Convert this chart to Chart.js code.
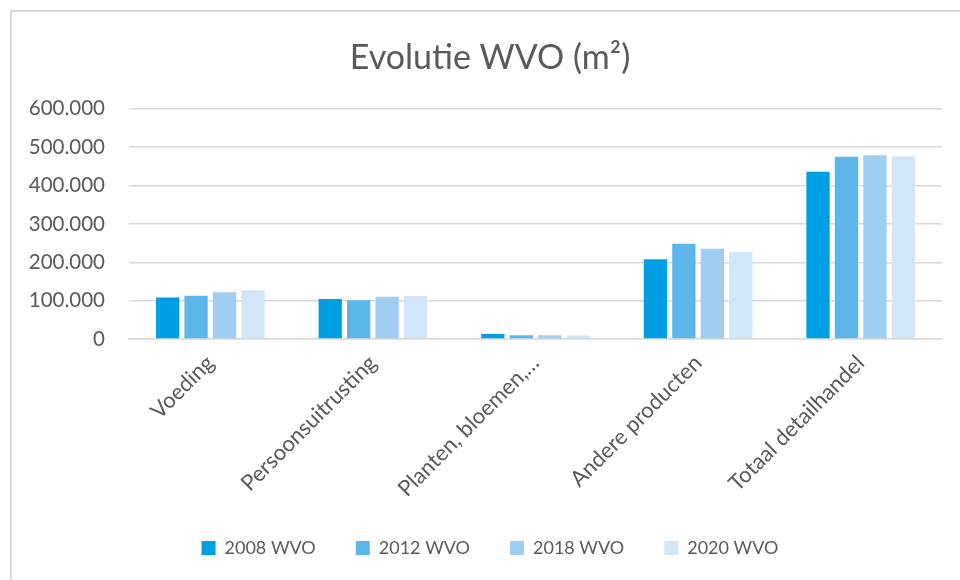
<!DOCTYPE html>
<html>
<head>
<meta charset="utf-8">
<script src="https://cdn.jsdelivr.net/npm/chart.js@4.4.0/dist/chart.umd.min.js"></script>
<style>
  html, body { margin: 0; padding: 0; background: #fff; overflow: hidden; }
  #kader { position: absolute; left: 10px; top: 10px; width: 960px; height: 580px;
           border-left: 2px solid #d9d9d9; border-top: 2px solid #d9d9d9; box-sizing: border-box; }
  #grafiek { position: absolute; left: 10px; top: 10px; }
</style>
</head>
<body>
<div id="kader"></div>
<canvas id="grafiek" width="960" height="570"></canvas>
<script>
const categorieen = ['Voeding', 'Persoonsuitrusting', 'Planten, bloemen,…', 'Andere producten', 'Totaal detailhandel'];
const wvo2008 = [108000, 104000, 13000, 208000, 436000];
const wvo2012 = [113000, 101000, 10000, 248000, 475000];
const wvo2018 = [122000, 110000, 9500, 235000, 479000];
const wvo2020 = [127000, 112000, 9000, 227000, 476000];
const yTicks = [0, 100000, 200000, 300000, 400000, 500000, 600000];

const grijs = '#595959';
const lettertype = 'Lato';

function formaat(v) {
  return String(v).replace(/\B(?=(\d{3})+(?!\d))/g, '.');
}

new Chart(document.getElementById('grafiek'), {
  type: 'bar',
  data: {
    labels: categorieen,
    datasets: [
      { label: '2008 WVO', data: wvo2008, backgroundColor: '#009FE3' },
      { label: '2012 WVO', data: wvo2012, backgroundColor: '#5DB6E9' },
      { label: '2018 WVO', data: wvo2018, backgroundColor: '#A0CEF2' },
      { label: '2020 WVO', data: wvo2020, backgroundColor: '#D1E6F9' }
    ]
  },
  options: {
    responsive: false,
    animation: false,
    layout: { padding: { left: 28, right: 28, bottom: 13 } },
    datasets: { bar: { categoryPercentage: 0.7, barPercentage: 0.82 } },
    plugins: {
      tooltip: { enabled: false },
      title: {
        display: true,
        text: 'Evolutie WVO (m²)',
        color: grijs,
        font: { family: lettertype, size: 34, weight: 'normal' },
        padding: { top: 28, bottom: 30 }
      },
      legend: {
        position: 'bottom',
        labels: {
          color: grijs,
          font: { family: lettertype, size: 18 },
          boxWidth: 14, boxHeight: 14,
          padding: 40
        }
      }
    },
    scales: {
      x: {
        grid: { display: false },
        border: { color: '#d9d9d9', width: 1.5 },
        ticks: {
          color: grijs,
          font: { family: lettertype, size: 22 },
          minRotation: 45, maxRotation: 45,
          autoSkip: false
        },
        afterFit: s => { s.height = 160; s.paddingLeft = 0; s.paddingRight = 0; }
      },
      y: {
        min: 0, max: 600000,
        afterBuildTicks: s => { s.ticks = yTicks.map(v => ({ value: v })); },
        grid: { color: '#d9d9d9', lineWidth: 1.5, drawTicks: false },
        border: { display: false },
        ticks: {
          color: grijs,
          font: { family: lettertype, size: 20.5 },
          padding: 24,
          callback: v => formaat(v)
        },
        // smalle as, labels mogen links uitsteken
        afterFit: s => { s.width = 91; s._computeLabelArea = () => undefined; }
      }
    }
  }
});
</script>
</body>
</html>
